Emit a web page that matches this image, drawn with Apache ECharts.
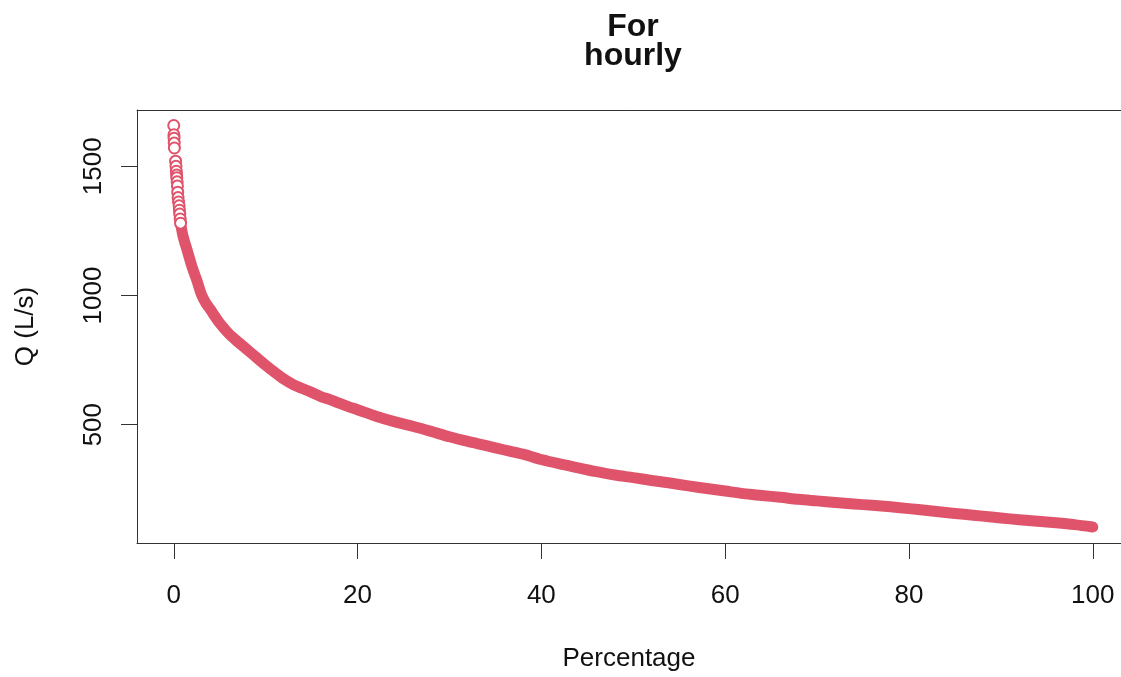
<!DOCTYPE html>
<html><head><meta charset="utf-8">
<script src="https://cdn.jsdelivr.net/npm/echarts@6/dist/echarts.min.js"></script>
<style>html,body{margin:0;padding:0;background:#fff}#c{width:1121px;height:677px}</style>
</head><body><div id="c"></div>
<script>
// Individual peak points (top of the flow duration curve)
const peakPct = [0.00, 0.02, 0.03, 0.05, 0.07, 0.20, 0.24, 0.28, 0.31, 0.33, 0.37, 0.40, 0.43, 0.47, 0.52, 0.58, 0.62, 0.65, 0.70, 0.74];
const peakQ   = [1658, 1622, 1609, 1590, 1571, 1520, 1500, 1481, 1466, 1456, 1440, 1424, 1400, 1379, 1362, 1347, 1330, 1315, 1296, 1280];
// Dense part of the curve
const curvePct = [0.74, 1.0, 1.5, 2.0, 2.5, 3.0, 3.5, 4.0, 4.5, 5.0, 6.0, 7.0, 8.0, 9.0, 10.0, 11.0, 12.0, 13.0, 14.0, 15.0, 16.0, 17.0, 18.0, 19.0, 20.0, 22.0, 24.0, 26.0, 28.0, 30.0, 32.0, 34.0, 36.0, 38.0, 40.0, 42.0, 44.0, 46.0, 48.0, 50.0, 52.0, 54.0, 56.0, 58.0, 60.0, 62.0, 64.0, 66.0, 68.0, 70.0, 72.0, 74.0, 76.0, 78.0, 80.0, 82.0, 84.0, 86.0, 88.0, 90.0, 92.0, 94.0, 96.0, 98.0, 100.0];
const curveQ   = [1280, 1231, 1170, 1110, 1060, 1005, 970, 945, 918, 893, 852, 820, 790, 760, 730, 702, 676, 655, 640, 625, 609, 597, 583, 570, 558, 533, 512, 494, 474, 453, 435, 419, 402, 386, 365, 348, 333, 318, 305, 295, 284, 274, 263, 253, 243, 233, 226, 219, 211, 205, 199, 193, 188, 182, 175, 168, 160, 153, 146, 139, 132, 126, 120, 113, 104];
const xTicks = [0, 20, 40, 60, 80, 100];
const yTicks = [500, 1000, 1500];

const col = '#DF536B';
const font = "'Liberation Sans', Arial, sans-serif";
const xMin = -4, xMax = 103.07;
const chart = echarts.init(document.getElementById('c'), null, {renderer: 'canvas', width: 1121, height: 677});
chart.setOption({
  animation: false,
  backgroundColor: '#fff',
  title: {
    text: 'For\nhourly',
    left: 633, top: 13, textAlign: 'center', padding: 0,
    textStyle: {fontFamily: font, fontSize: 32, fontWeight: 'bold', color: '#111', lineHeight: 28.5}
  },
  grid: {left: 137, top: 110, bottom: 131, right: 0, show: false},
  xAxis: [{
    type: 'value', min: xMin, max: xMax,
    name: 'Percentage', nameLocation: 'middle', nameGap: 103,
    nameTextStyle: {fontFamily: font, fontSize: 26, color: '#111'},
    axisLine: {show: true, onZero: false, lineStyle: {color: '#333', width: 1}},
    axisTick: {show: true, length: 16, customValues: xTicks, lineStyle: {color: '#333', width: 1}},
    axisLabel: {customValues: xTicks, margin: 40, fontFamily: font, fontSize: 26, color: '#111'},
    splitLine: {show: false}
  }, {
    type: 'value', position: 'top', min: xMin, max: xMax,
    axisLine: {show: true, onZero: false, lineStyle: {color: '#333', width: 1}},
    axisTick: {show: false}, axisLabel: {show: false}, splitLine: {show: false}
  }],
  yAxis: {
    type: 'value', min: 42, max: 1718,
    name: 'Q (L/s)', nameLocation: 'middle', nameGap: 98, nameRotate: 90,
    nameTextStyle: {fontFamily: font, fontSize: 26, color: '#111'},
    axisLine: {show: true, onZero: false, lineStyle: {color: '#333', width: 1}},
    axisTick: {show: true, length: 16, customValues: yTicks, lineStyle: {color: '#333', width: 1}},
    axisLabel: {customValues: yTicks, formatter: v => String(v), rotate: 90, margin: 30, align: 'center', verticalAlign: 'bottom', fontFamily: font, fontSize: 26, color: '#111'},
    splitLine: {show: false}
  },
  series: [
    {
      type: 'line', data: curvePct.map((p, i) => [p, curveQ[i]]),
      showSymbol: false, symbol: 'none', smooth: 0.3,
      lineStyle: {color: col, width: 11, cap: 'round', join: 'round'},
      z: 2, silent: true
    },
    {
      type: 'scatter', data: peakPct.map((p, i) => [p, peakQ[i]]),
      symbol: 'emptyCircle', symbolSize: 11,
      itemStyle: {color: col, borderColor: col, borderWidth: 1, opacity: 1},
      z: 3, silent: true
    }
  ]
});
</script></body></html>
